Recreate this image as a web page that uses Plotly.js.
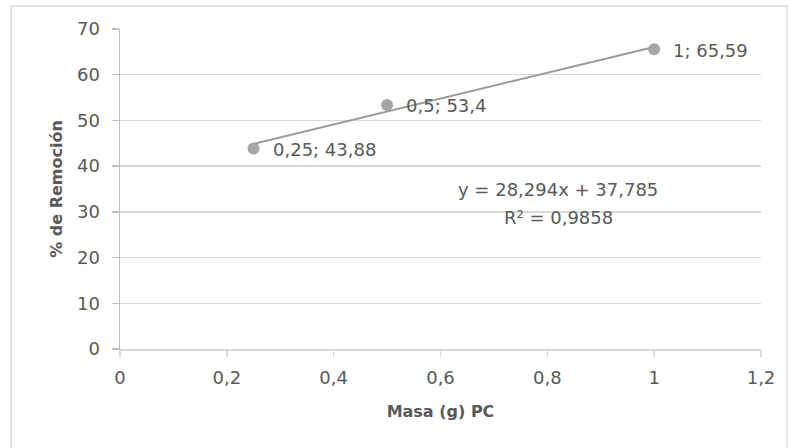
<!DOCTYPE html>
<html>
<head>
<meta charset="utf-8">
<script src="https://cdn.plot.ly/plotly-3.0.1.min.js"></script>
<style>html,body{margin:0;padding:0;background:#fff;}#chart{width:788px;height:448px;}</style>
</head>
<body>
<div id="chart"></div>
<script>
var masa = [0.25, 0.5, 1];
var remocion = [43.88, 53.4, 65.59];
var xTicks = [0, 0.2, 0.4, 0.6, 0.8, 1, 1.2];
var yTicks = [0, 10, 20, 30, 40, 50, 60, 70];

function fmt(v){ return String(v).replace('.', ','); }

// least squares linear fit (trendline)
var n = masa.length, mx = 0, my = 0;
for (var i=0;i<n;i++){ mx += masa[i]; my += remocion[i]; }
mx/=n; my/=n;
var sxx=0, sxy=0, syy=0;
for (var i=0;i<n;i++){ sxx += (masa[i]-mx)*(masa[i]-mx); sxy += (masa[i]-mx)*(remocion[i]-my); syy += (remocion[i]-my)*(remocion[i]-my); }
var slope = sxy/sxx, intercept = my - slope*mx;
var r2 = (sxy*sxy)/(sxx*syy);
var xFit = [Math.min.apply(null, masa), Math.max.apply(null, masa)];
var yFit = xFit.map(function(x){ return slope*x + intercept; });

var font = 'DejaVu Sans, sans-serif';
var txt = '#595959';
var fs = 18;

var traces = [
  {x: xFit, y: yFit, mode: 'lines', line: {color: '#9a9a9a', width: 2}, hoverinfo: 'skip'},
  {x: masa, y: remocion, mode: 'markers', marker: {color: '#a5a5a5', size: 12}, cliponaxis: false}
];

var anns = masa.map(function(x, i){
  return {x: x, y: remocion[i], xref: 'x', yref: 'y', showarrow: false, xanchor: 'left', yanchor: 'middle',
    xshift: 17, yshift: -1, text: fmt(x) + '; ' + fmt(remocion[i]), font: {family: font, size: fs, color: txt}};
});
anns.push({x: 0.82, y: 34.9, xref: 'x', yref: 'y', showarrow: false,
  text: 'y = ' + fmt(slope.toFixed(3)) + 'x + ' + fmt(intercept.toFixed(3)), font: {family: font, size: fs, color: txt}});
anns.push({x: 0.82, y: 28.7, xref: 'x', yref: 'y', showarrow: false,
  text: 'R² = ' + fmt(r2.toFixed(4)), font: {family: font, size: fs, color: txt}});

var layout = {
  width: 788, height: 448,
  margin: {l: 120, r: 27, t: 29, b: 99},
  showlegend: false,
  separators: ',.',
  paper_bgcolor: '#fff', plot_bgcolor: '#fff',
  font: {family: font, color: txt, size: fs},
  xaxis: {range: [0, 1.2], tickvals: xTicks, ticktext: xTicks.map(fmt), showgrid: false, zeroline: false,
    showline: true, linecolor: '#d9d9d9', linewidth: 1.5, ticks: 'outside', ticklen: 6, tickcolor: '#d9d9d9', tickwidth: 1.5,
    ticklabelstandoff: 6,
    tickfont: {family: font, size: fs, color: txt},
    title: {text: '<b>Masa (g) PC</b>', font: {family: font, size: 16, color: txt}, standoff: 18}},
  yaxis: {range: [0, 70], tickvals: yTicks, showgrid: true, gridcolor: '#d9d9d9', gridwidth: 1.5, zeroline: false,
    showline: true, linecolor: '#bfbfbf', linewidth: 1.5, ticks: 'outside', ticklen: 7, tickcolor: '#bfbfbf', tickwidth: 1.5,
    ticklabelstandoff: 8,
    tickfont: {family: font, size: fs, color: txt},
    title: {text: '<b>% de Remoción</b>', font: {family: font, size: 16, color: txt}, standoff: 10}},
  shapes: [{type: 'rect', xref: 'paper', yref: 'paper', x0: -0.170, x1: 1.041, y0: -0.32, y1: 1.072,
    line: {color: '#d9d9d9', width: 1.5}}],
  annotations: anns
};
Plotly.newPlot('chart', traces, layout, {displayModeBar: false, staticPlot: true});
</script>
</body>
</html>
